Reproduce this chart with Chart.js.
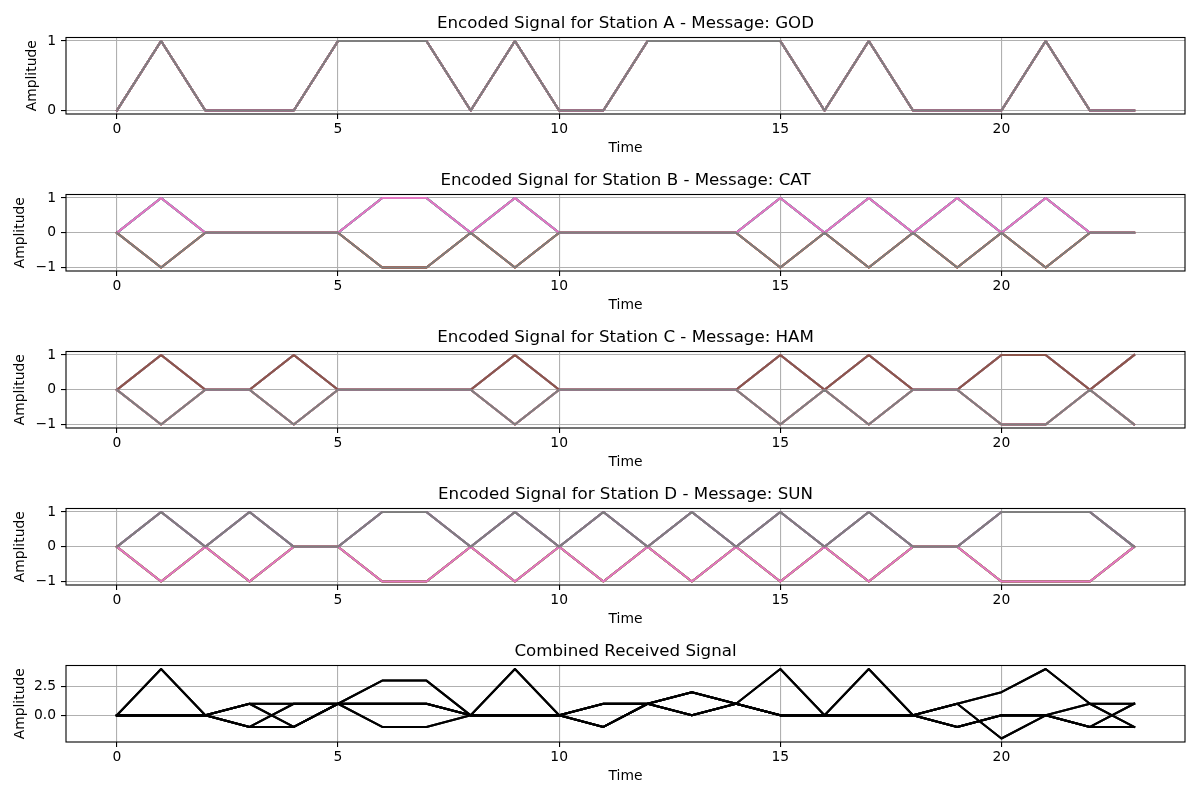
<!DOCTYPE html>
<html>
<head>
<meta charset="utf-8">
<script src="https://cdn.jsdelivr.net/npm/chart.js@4.4.0/dist/chart.umd.min.js"></script>
<style>
html, body { margin: 0; padding: 0; background: #ffffff; }
#wrap { position: relative; width: 1200px; height: 800px; overflow: hidden; background: #ffffff; }
#wrap canvas { position: absolute; left: 0; }
</style>
</head>
<body>
<div id="wrap"></div>
<script>
// ---------------- DATA ----------------
const TIME = [0,1,2,3,4,5,6,7,8,9,10,11,12,13,14,15,16,17,18,19,20,21,22,23];
const X_TICKS = [0, 5, 10, 15, 20];
const X_TICK_LABELS = ['0', '5', '10', '15', '20'];

const TITLES = [
  'Encoded Signal for Station A - Message: GOD',
  'Encoded Signal for Station B - Message: CAT',
  'Encoded Signal for Station C - Message: HAM',
  'Encoded Signal for Station D - Message: SUN',
  'Combined Received Signal'
];

// Station A (GOD): all 8 lines share the same shape
const STATION_A = [0,1,0,0,0,1,1,1,0,1,0,0,1,1,1,1,0,1,0,0,0,1,0,0];
const STATION_A_NEG = [0,-1,0,0,0,-1,-1,-1,0,-1,0,0,-1,-1,-1,-1,0,-1,0,0,0,-1,0,0];
// Station B (CAT)
const STATION_B_POS = [0,1,0,0,0,0,1,1,0,1,0,0,0,0,0,1,0,1,0,1,0,1,0,0];
const STATION_B_NEG = [0,-1,0,0,0,0,-1,-1,0,-1,0,0,0,0,0,-1,0,-1,0,-1,0,-1,0,0];
// Station C (HAM)
const STATION_C_POS = [0,1,0,0,1,0,0,0,0,1,0,0,0,0,0,1,0,1,0,0,1,1,0,1];
const STATION_C_NEG = [0,-1,0,0,-1,0,0,0,0,-1,0,0,0,0,0,-1,0,-1,0,0,-1,-1,0,-1];
// Station D (SUN)
const STATION_D_POS = [0,1,0,1,0,0,1,1,0,1,0,1,0,1,0,1,0,1,0,0,1,1,1,0];
const STATION_D_NEG = [0,-1,0,-1,0,0,-1,-1,0,-1,0,-1,0,-1,0,-1,0,-1,0,0,-1,-1,-1,0];

// which shape (+1 / -1) each of the 8 code lines of a station takes
const CODE_A = [1, 1, 1, 1, 1, 1, 1, 1];
const CODE_B = [1, -1, 1, -1, 1, -1, 1, -1];
const CODE_C = [1, 1, -1, -1, 1, 1, -1, -1];
const CODE_D = [1, -1, -1, 1, 1, -1, -1, 1];

// combined received signal: the 4 distinct lines
const COMBINED_0 = [0,4,0,1,1,1,3,3,0,4,0,1,1,2,1,4,0,4,0,1,2,4,1,1];
const COMBINED_1 = [0,0,0,-1,1,1,-1,-1,0,0,0,-1,1,0,1,0,0,0,0,-1,0,0,-1,1];
const COMBINED_2 = [0,0,0,-1,-1,1,1,1,0,0,0,-1,1,0,1,0,0,0,0,1,-2,0,-1,-1];
const COMBINED_3 = [0,0,0,1,-1,1,1,1,0,0,0,1,1,2,1,0,0,0,0,-1,0,0,1,-1];
const COMBINED_ORDER = [0, 1, 2, 3, 0, 1, 2, 3];

// y ticks per panel
const Y_TICKS_A = [0, 1];
const Y_TICK_LABELS_A = ['0', '1'];
const Y_TICKS_BCD = [-1, 0, 1];
const Y_TICK_LABELS_BCD = ['\u22121', '0', '1'];
const Y_TICKS_COMB = [0, 2.5];
const Y_TICK_LABELS_COMB = ['0.0', '2.5'];

// ---------------- STYLE ----------------
const LINE_COLORS = ['#1f77b4', '#ff7f0e', '#2ca02c', '#d62728', '#9467bd', '#8c564b', '#e377c2', '#7f7f7f'];
const FONT = 'DejaVu Sans';
const TICK_SIZE = 13.89;
const TITLE_SIZE = 16.67;
const PANEL_H = 157;

Chart.defaults.font.family = FONT;
Chart.defaults.color = '#000000';

function seriesOf(posArr, negArr, code) {
  return code.map(c => (c > 0 ? posArr : negArr));
}

const panels = [
  { title: TITLES[0], lines: seriesOf(STATION_A, STATION_A_NEG, CODE_A), colors: LINE_COLORS,
    ymin: -0.05, ymax: 1.05, yticks: Y_TICKS_A, ylabels: Y_TICK_LABELS_A, ytitlePad: 24 },
  { title: TITLES[1], lines: seriesOf(STATION_B_POS, STATION_B_NEG, CODE_B), colors: LINE_COLORS,
    ymin: -1.1, ymax: 1.1, yticks: Y_TICKS_BCD, ylabels: Y_TICK_LABELS_BCD, ytitlePad: 12.5 },
  { title: TITLES[2], lines: seriesOf(STATION_C_POS, STATION_C_NEG, CODE_C), colors: LINE_COLORS,
    ymin: -1.1, ymax: 1.1, yticks: Y_TICKS_BCD, ylabels: Y_TICK_LABELS_BCD, ytitlePad: 12.5 },
  { title: TITLES[3], lines: seriesOf(STATION_D_POS, STATION_D_NEG, CODE_D), colors: LINE_COLORS,
    ymin: -1.1, ymax: 1.1, yticks: Y_TICKS_BCD, ylabels: Y_TICK_LABELS_BCD, ytitlePad: 12.5 },
  { title: TITLES[4],
    lines: COMBINED_ORDER.map(k => [COMBINED_0, COMBINED_1, COMBINED_2, COMBINED_3][k]),
    colors: COMBINED_ORDER.map(() => '#000000'),
    ymin: -2.3, ymax: 4.3, yticks: Y_TICKS_COMB, ylabels: Y_TICK_LABELS_COMB, ytitlePad: 12 }
];

const framePlugin = {
  id: 'frame',
  afterDatasetsDraw(chart) {
    const a = chart.chartArea;
    const ctx = chart.ctx;
    ctx.save();
    ctx.strokeStyle = '#000000';
    ctx.lineWidth = 1.1;
    ctx.strokeRect(a.left, a.top, a.right - a.left, a.bottom - a.top);
    ctx.restore();
  }
};

const wrap = document.getElementById('wrap');

panels.forEach((p, i) => {
  const canvas = document.createElement('canvas');
  canvas.width = 1200;
  canvas.height = PANEL_H;
  canvas.style.width = '1200px';
  canvas.style.height = PANEL_H + 'px';
  canvas.style.top = (i * PANEL_H) + 'px';
  wrap.appendChild(canvas);

  const datasets = p.lines.map((arr, k) => ({
    data: TIME.map((t, j) => ({ x: t, y: arr[j] })),
    borderColor: p.colors[k],
    backgroundColor: p.colors[k],
    borderWidth: 2.08,
    borderJoinStyle: 'round',
    borderCapStyle: 'square',
    pointRadius: 0,
    pointHoverRadius: 0,
    tension: 0,
    fill: false,
    order: p.lines.length - 1 - k
  }));

  new Chart(canvas, {
    type: 'line',
    data: { datasets },
    options: {
      responsive: false,
      animation: false,
      devicePixelRatio: 1,
      events: [],
      layout: { padding: { left: 0, right: 15, top: 0, bottom: 0 } },
      plugins: {
        legend: { display: false },
        tooltip: { enabled: false },
        title: {
          display: true,
          text: p.title,
          fullSize: false,
          color: '#000000',
          font: { family: FONT, size: TITLE_SIZE, weight: 'normal', lineHeight: 1.2 },
          padding: { top: 13.5, bottom: 4 }
        }
      },
      scales: {
        x: {
          type: 'linear',
          min: -1.15,
          max: 24.15,
          afterBuildTicks(scale) { scale.ticks = X_TICKS.map(v => ({ value: v })); },
          afterFit(scale) { scale.height = 43; },
          ticks: {
            font: { family: FONT, size: TICK_SIZE },
            color: '#000000',
            padding: 2,
            maxRotation: 0,
            autoSkip: false,
            callback: (v, idx) => X_TICK_LABELS[idx]
          },
          grid: {
            color: '#b0b0b0',
            lineWidth: 1.1,
            drawTicks: true,
            tickLength: 5,
            tickColor: '#000000',
            tickWidth: 1.1
          },
          border: { display: false },
          title: {
            display: true,
            text: 'Time',
            color: '#000000',
            font: { family: FONT, size: TICK_SIZE, lineHeight: 1.2 },
            padding: { top: 0, bottom: 0 }
          }
        },
        y: {
          type: 'linear',
          min: p.ymin,
          max: p.ymax,
          afterBuildTicks(scale) { scale.ticks = p.yticks.map(v => ({ value: v })); },
          afterFit(scale) { scale.width = 66; },
          ticks: {
            font: { family: FONT, size: TICK_SIZE },
            color: '#000000',
            padding: 5,
            autoSkip: false,
            callback: (v, idx) => p.ylabels[idx]
          },
          grid: {
            color: '#b0b0b0',
            lineWidth: 1.1,
            drawTicks: true,
            tickLength: 5,
            tickColor: '#000000',
            tickWidth: 1.1
          },
          border: { display: false },
          title: {
            display: true,
            text: 'Amplitude',
            color: '#000000',
            font: { family: FONT, size: TICK_SIZE, lineHeight: 1.2 },
            padding: { top: p.ytitlePad, bottom: 0 }
          }
        }
      }
    },
    plugins: [framePlugin]
  });
});
</script>
</body>
</html>
